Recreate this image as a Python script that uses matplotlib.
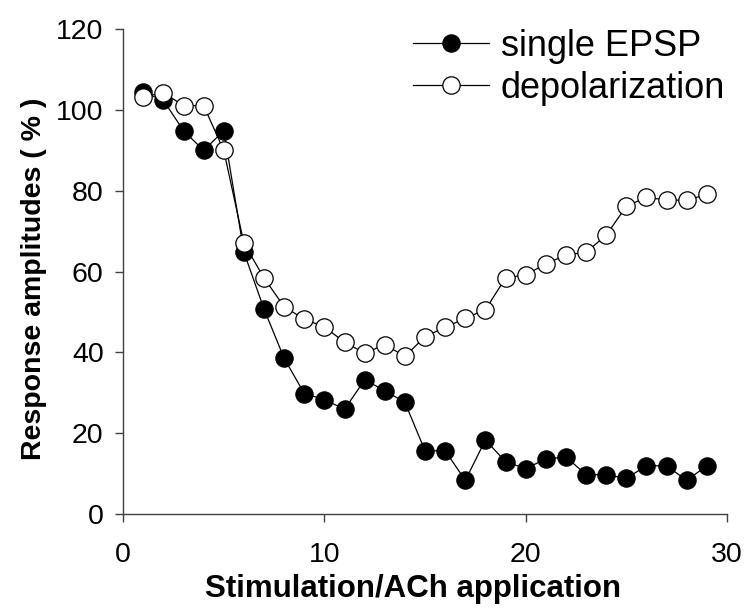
import matplotlib
matplotlib.use("Agg")
import matplotlib.pyplot as plt

stim = list(range(1, 30))
single_epsp = [104.4, 102.4, 94.9, 90.0, 94.9, 64.8, 50.7, 38.5, 29.8, 28.3,
               25.9, 33.2, 30.5, 27.6, 15.6, 15.6, 8.3, 18.3, 12.9, 11.2,
               13.6, 14.1, 9.7, 9.7, 8.8, 11.9, 11.9, 8.3, 11.9]
depolarization = [103.3, 104.3, 101.1, 101.1, 90.0, 67.0, 58.4, 51.3, 48.2, 46.3,
                  42.5, 39.8, 41.9, 39.0, 43.9, 46.2, 48.4, 50.6, 58.4, 59.2,
                  61.9, 64.1, 64.8, 69.0, 76.2, 78.4, 77.7, 77.7, 79.1]
xticks = [0, 10, 20, 30]
yticks = [0, 20, 40, 60, 80, 100, 120]

plt.rcParams['font.family'] = ['Liberation Sans', 'DejaVu Sans']

fig = plt.figure(figsize=(7.51, 6.11), dpi=100)
ax = fig.add_axes([0.164, 0.159, 0.804, 0.793])

ax.plot(stim, single_epsp, color='black', lw=0.9, marker='o', ms=12.5,
        mfc='black', mec='black', mew=0.8, label='single EPSP', zorder=3)
ax.plot(stim, depolarization, color='black', lw=0.9, marker='o', ms=12.5,
        mfc='white', mec='black', mew=0.9, label='depolarization', zorder=4)

ax.set_xlim(0, 30)
ax.set_ylim(0, 120)
ax.set_xticks(xticks)
ax.set_yticks(yticks)
for s in ['top', 'right']:
    ax.spines[s].set_visible(False)
for s in ['left', 'bottom']:
    ax.spines[s].set_color('#404040')
    ax.spines[s].set_linewidth(1.0)
ax.tick_params(axis='both', direction='out', length=6, width=1.0,
               color='#404040', labelsize=20.5, pad=8)
ax.tick_params(axis='x', pad=14)

ax.set_xlabel('Stimulation/ACh application', fontsize=22.5, fontweight='bold')
ax.xaxis.set_label_coords(0.48, -0.125)
ax.set_ylabel('Response amplitudes ( % )', fontsize=20.5, fontweight='bold')
ax.yaxis.set_label_coords(-0.126, 0.485)

leg = ax.legend(loc='upper left', bbox_to_anchor=(0.55, 0.9525), bbox_transform=fig.transFigure,
                frameon=False, fontsize=26, handlelength=2.1, handletextpad=0.33,
                labelspacing=0.18, borderaxespad=0.0, borderpad=0.0)

fig.savefig('out.png', dpi=100)
